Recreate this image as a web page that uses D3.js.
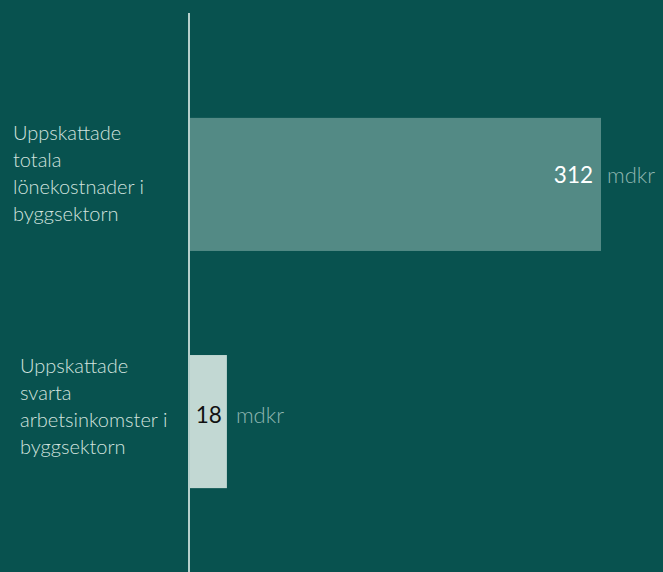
<!DOCTYPE html>
<html>
<head>
<meta charset="utf-8">
<script src="https://cdn.jsdelivr.net/npm/d3@7"></script>
<style>
  html, body { margin: 0; padding: 0; background: #08524f; }
  svg { display: block; font-family: Lato, "Open Sans", sans-serif; }
  .light { font-family: "Lato Light", Lato, sans-serif; font-weight: 300; }
</style>
</head>
<body>
<div id="chart-area"></div>
<script>
// SVG Size
let width = 663,
	height = 572;

// data
let categories = [
	["Uppskattade", "totala", "lönekostnader i", "byggsektorn"],
	["Uppskattade", "svarta", "arbetsinkomster i", "byggsektorn"]
];
let values = [312, 18];
let unit = "mdkr";

let barColors = ["#538a85", "#c2d8d3"];
let valueColors = ["#ffffff", "#111111"];

drawChart();

function drawChart() {
	let svg = d3.select("#chart-area")
		.append("svg")
		.attr("width", width)
		.attr("height", height);

	svg.append("rect")
		.attr("width", width)
		.attr("height", height)
		.attr("fill", "#08524f");

	// short bars get some room so the number fits inside
	let xScale = d3.scaleLinear()
		.domain([-11, 312])
		.range([190, 601]);

	let yScale = d3.scaleBand()
		.domain(d3.range(values.length))
		.range([13.5, 592.5])
		.paddingInner(104 / 237)
		.paddingOuter(0.44);

	let bh = yScale.bandwidth();

	svg.selectAll("rect.bar")
		.data(values)
		.enter()
		.append("rect")
		.attr("class", "bar")
		.attr("x", xScale(-11))
		.attr("y", (d, i) => yScale(i))
		.attr("width", d => xScale(d) - xScale(-11))
		.attr("height", bh)
		.attr("fill", (d, i) => barColors[i]);

	// axis line
	svg.append("line")
		.attr("x1", 189).attr("x2", 189)
		.attr("y1", 13).attr("y2", height)
		.attr("stroke", "#b5d0cb")
		.attr("stroke-width", 2);

	// value labels + unit
	let valGap = [8, 5];
	values.forEach((d, i) => {
		let yb = yScale(i) + bh / 2 + (i === 0 ? -1.5 : 1.5);
		let v = svg.append("text")
			.attr("x", xScale(d) - valGap[i])
			.attr("y", yb)
			.attr("text-anchor", "end")
			.attr("font-size", 22.5)
			.attr("fill", valueColors[i])
			.text(d);
		svg.append("text")
			.attr("class", "light")
			.attr("x", xScale(d) - valGap[i] + 14)
			.attr("y", yb)
			.attr("font-size", 22)
			.attr("fill", "#8db5b0")
			.text(unit);
	});

	// category labels
	let labelX = [13, 20];
	let labelTop = [22, 18];
	categories.forEach((lines, i) => {
		let t = svg.append("text")
			.attr("class", "light")
			.attr("x", labelX[i])
			.attr("y", yScale(i) + labelTop[i])
			.attr("font-size", 20)
			.attr("fill", "#d2e3df");
		lines.forEach((l, j) => {
			t.append("tspan")
				.attr("x", labelX[i])
				.attr("dy", j === 0 ? 0 : 27)
				.text(l);
		});
	});
}
</script>
</body>
</html>
